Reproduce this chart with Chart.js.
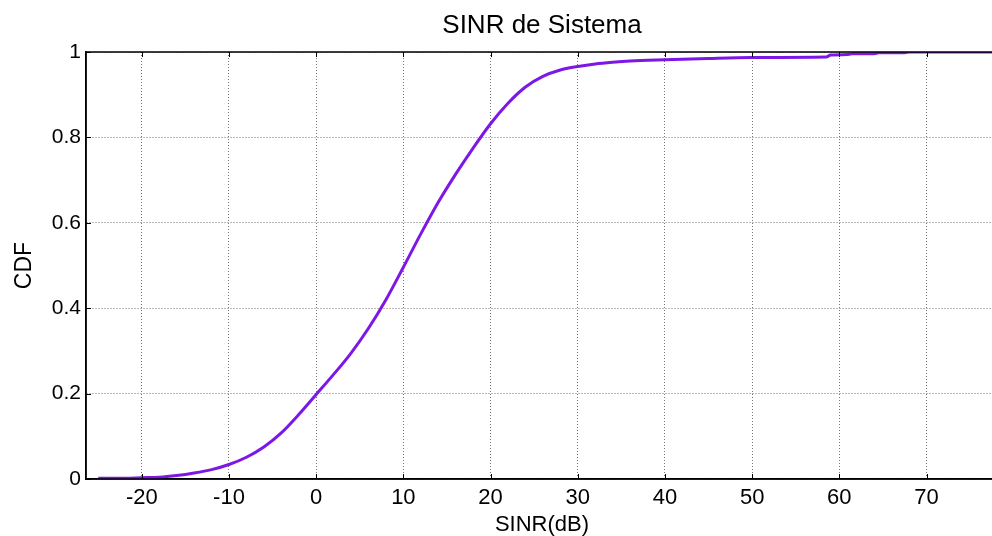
<!DOCTYPE html>
<html>
<head>
<meta charset="utf-8">
<title>SINR de Sistema</title>
<script src="https://cdn.jsdelivr.net/npm/chart.js@4.4.1/dist/chart.umd.min.js"></script>
<style>
	body {
		margin: 0;
		background: #fff;
		overflow: hidden;
	}
	.caixaGrafico {
		position: absolute;
		left: 0;
		top: 0;
		width: 998px;
		height: 536px;
	}
</style>
</head>
<body>
<div class="caixaGrafico">
	<canvas id="graficoSinr"></canvas>
</div>
<script>
// Dados (SINR em dB x CDF)
const sinrDb = [
	-25, -22, -20, -18, -16, -14, -12, -10, -8, -6, -4, -2,
	0, 2, 4, 6, 8, 10, 12, 14, 16, 18, 20, 22, 24, 26, 28, 30,
	32, 34, 36, 40, 45, 50, 58.5, 59, 61, 61.5, 64, 64.5, 67.5, 68, 78.5,
];
const cdf = [
	0.002, 0.002, 0.003, 0.004, 0.008, 0.014, 0.022, 0.034, 0.051, 0.075, 0.108, 0.151,
	0.198, 0.245, 0.295, 0.353, 0.42, 0.496, 0.574, 0.648, 0.714, 0.775, 0.832, 0.88, 0.918, 0.943, 0.958, 0.966,
	0.972, 0.976, 0.979, 0.982, 0.985, 0.987, 0.988, 0.993, 0.994, 0.996, 0.996, 0.998, 0.998, 1.0, 1.0,
];

// Eixos
const ticksX = [-20, -10, 0, 10, 20, 30, 40, 50, 60, 70];
const ticksY = [0, 0.2, 0.4, 0.6, 0.8, 1];
const limitesX = [-26.4, 78.2];

const pontos = sinrDb.map((x, i) => ({ x: x, y: cdf[i] }));

const fonte = "'Liberation Sans', Arial, sans-serif";

// Caixa em volta do gráfico + marcas de tick para dentro (estilo MATLAB)
const caixaMatlab = {
	id: 'caixaMatlab',
	afterDatasetsDraw(chart) {
		const ctx = chart.ctx;
		const area = chart.chartArea;
		const escX = chart.scales.x;
		const escY = chart.scales.y;
		ctx.save();
		ctx.strokeStyle = '#000';
		ctx.lineWidth = 1;
		ctx.beginPath();
		ticksX.forEach((v) => {
			const px = Math.round(escX.getPixelForValue(v)) + 0.5;
			ctx.moveTo(px, area.bottom);
			ctx.lineTo(px, area.bottom - 5);
			ctx.moveTo(px, area.top);
			ctx.lineTo(px, area.top + 5);
		});
		ticksY.forEach((v) => {
			const py = Math.round(escY.getPixelForValue(v)) + 0.5;
			ctx.moveTo(area.left, py);
			ctx.lineTo(area.left + 5, py);
			ctx.moveTo(area.right, py);
			ctx.lineTo(area.right - 5, py);
		});
		ctx.stroke();
		ctx.lineWidth = 1.5;
		ctx.strokeRect(area.left, area.top, area.right - area.left, area.bottom - area.top);
		ctx.restore();
	},
};

const grafico = document.getElementById('graficoSinr');

new Chart(grafico, {
	type: 'line',
	data: {
		datasets: [
			{
				label: 'CDF',
				data: pontos,
				borderColor: '#7d17e6',
				borderWidth: 3,
				pointRadius: 0,
				cubicInterpolationMode: 'monotone',
				fill: false,
			},
		],
	},
	options: {
		responsive: true,
		maintainAspectRatio: false,
		animation: false,
		layout: {
			padding: 0,
		},
		plugins: {
			legend: { display: false },
			tooltip: { enabled: false },
			title: { display: false },
		},
		scales: {
			// eixo de cima só para centralizar o título sobre a área do gráfico
			topo: {
				type: 'linear',
				position: 'top',
				min: limitesX[0],
				max: limitesX[1],
				afterFit: (escala) => {
					escala.height = 52;
				},
				ticks: { display: false },
				grid: { display: false },
				border: { display: false },
				title: {
					display: true,
					text: 'SINR de Sistema',
					color: '#000',
					font: { family: fonte, size: 26, lineHeight: 1.2 },
					padding: { top: 10, bottom: 0 },
				},
			},
			x: {
				type: 'linear',
				position: 'bottom',
				min: limitesX[0],
				max: limitesX[1],
				afterFit: (escala) => {
					escala.height = 57;
				},
				afterBuildTicks: (escala) => {
					escala.ticks = ticksX.map((v) => ({ value: v }));
				},
				ticks: {
					color: '#000',
					font: { family: fonte, size: 22 },
					padding: 6,
					maxRotation: 0,
					autoSkip: false,
				},
				grid: {
					color: 'rgba(70,70,70,0.75)',
					lineWidth: 1,
					drawTicks: false,
				},
				border: {
					display: true,
					color: '#000',
					width: 1.5,
					dash: [1, 2],
				},
				title: {
					display: true,
					text: 'SINR(dB)',
					color: '#000',
					font: { family: fonte, size: 22, lineHeight: 1 },
					padding: { top: 0, bottom: 0 },
				},
			},
			y: {
				type: 'linear',
				min: 0,
				max: 1,
				afterFit: (escala) => {
					escala.width = 86;
				},
				afterBuildTicks: (escala) => {
					escala.ticks = ticksY.map((v) => ({ value: v }));
				},
				ticks: {
					color: '#000',
					font: { family: fonte, size: 21 },
					padding: 5,
					callback: (valor) => String(valor),
				},
				grid: {
					color: 'rgba(70,70,70,0.75)',
					lineWidth: 1,
					drawTicks: false,
				},
				border: {
					display: true,
					color: '#000',
					width: 1.5,
					dash: [1, 2],
				},
				title: {
					display: true,
					text: 'CDF',
					color: '#000',
					font: { family: fonte, size: 23 },
					padding: { top: 11, bottom: 0 },
				},
			},
		},
	},
	plugins: [caixaMatlab],
});
</script>
</body>
</html>
